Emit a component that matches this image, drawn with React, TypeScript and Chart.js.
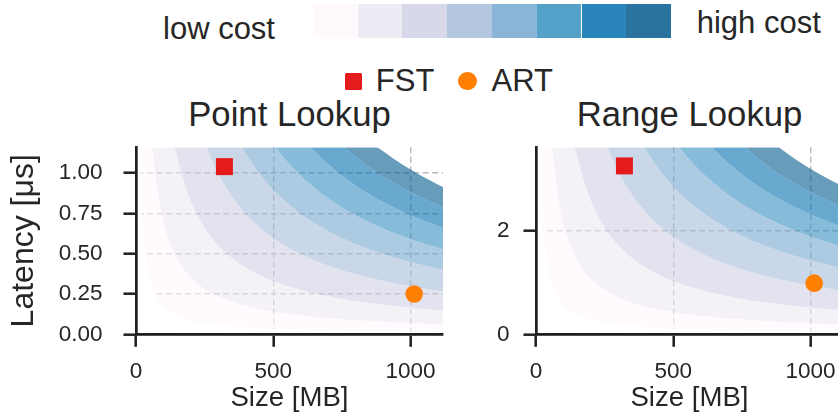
import React, { useEffect, useRef } from "react";
import { Chart, registerables } from "chart.js";

Chart.register(...registerables);

const FONT = "'Liberation Sans', Arial, Helvetica, sans-serif";
const TEXT = "#262626";
const AXIS = "#1f1f1f";
const GRID = "#b8b8b8";

// ---------- data ----------
// PuBu colour classes, from lowest cost band to highest cost band
const COST_COLORS = ["#fff7fb", "#ece7f2", "#d0d1e6", "#a6bddb", "#74a9cf", "#3690c0", "#0570b0", "#045a8d"];
// iso-cost levels (size x latency) that bound the 8 bands
const POINT_LEVELS = [17, 70, 165, 298, 448, 590, 738, 882, 1022];
const RANGE_LEVELS = [55, 214, 516, 943, 1430, 1892, 2320, 2753, 3202];

const SIZE_TICKS = [0, 500, 1000];
const POINT_LATENCY_TICKS = [0, 0.25, 0.5, 0.75, 1.0];
const RANGE_LATENCY_TICKS = [0, 2];

const SIZE_MAX = 1118;
const POINT_LATENCY_MAX = 1.16;
const RANGE_LATENCY_MAX = 3.62;

const INDEX_NAMES = ["FST", "ART"];
const INDEX_COLORS = ["#e41a1c", "#ff7f00"];
const INDEX_SIZE_MB = [322, 1013];
const POINT_LATENCY_US = [1.04, 0.25];
const RANGE_LATENCY_US = [3.26, 0.99];

const LEGEND_LOW = "low cost";
const LEGEND_HIGH = "high cost";

// ---------- helpers ----------
const toRgba = (hex: string, a: number) => {
  const n = parseInt(hex.slice(1), 16);
  return `rgba(${(n >> 16) & 255},${(n >> 8) & 255},${n & 255},${a})`;
};

// x positions at which each iso-cost curve (latency = level / size) is evaluated
function sampleSizes(levels: number[], latMax: number): number[] {
  const s = new Set<number>([0, SIZE_MAX]);
  const n = 320;
  for (let i = 0; i <= n; i++) s.add(Math.pow(SIZE_MAX, i / n));
  levels.forEach((l) => {
    const knee = l / latMax;
    if (knee < SIZE_MAX) s.add(knee);
  });
  return Array.from(s).sort((a, b) => a - b);
}

type Panel = {
  levels: number[];
  latMax: number;
  latTicks: number[];
  latencies: number[];
  yTitle: string | null;
  yTickPadding: number;
  decimals: number;
};

function buildConfig(p: Panel): any {
  const xs = sampleSizes(p.levels, p.latMax);
  const markerDs = INDEX_NAMES.map((name, i) => ({
    label: name,
    data: [{ x: INDEX_SIZE_MB[i], y: p.latencies[i] }],
    showLine: false,
    pointStyle: i === 0 ? "rect" : "circle",
    pointRadius: i === 0 ? 12 : 8.8,
    pointBackgroundColor: INDEX_COLORS[i],
    pointBorderColor: "rgba(0,0,0,0)",
    pointBorderWidth: 0,
    borderColor: "rgba(0,0,0,0)",
    backgroundColor: INDEX_COLORS[i],
    fill: false,
    clip: false,
  }));
  const base = markerDs.length;
  const curveDs = p.levels.map((level, k) => ({
    label: `cost ${level}`,
    data: xs.map((x) => ({ x, y: x === 0 ? p.latMax : Math.min(level / x, p.latMax) })),
    borderColor: "rgba(0,0,0,0)",
    borderWidth: 0,
    pointRadius: 0,
    tension: 0,
    backgroundColor: k === 0 ? "#ffffff" : toRgba(COST_COLORS[k - 1], 0.6),
    fill: k === 0 ? "start" : base + k - 1,
  }));

  const tickFont = { family: FONT, size: 22.5 };
  return {
    type: "line",
    data: { datasets: [...markerDs, ...curveDs] },
    options: {
      responsive: false,
      animation: false,
      devicePixelRatio: 1,
      events: [],
      layout: { autoPadding: false, padding: { top: 7.3, right: 7, bottom: 0, left: 0 } },
      plugins: { legend: { display: false }, tooltip: { enabled: false }, title: { display: false } },
      scales: {
        x: {
          type: "linear",
          min: 0,
          max: SIZE_MAX,
          afterBuildTicks: (s: any) => {
            s.ticks = SIZE_TICKS.map((v) => ({ value: v }));
          },
          afterFit: (s: any) => {
            s.height = 81.7;
            s.paddingLeft = 0;
            s.paddingRight = 0;
          },
          ticks: { font: tickFont, color: TEXT, padding: 11.2, maxRotation: 0, autoSkip: false, callback: (v: any) => String(v) },
          grid: { color: GRID, lineWidth: 1.4, tickLength: 12.5, tickWidth: 2.5, tickColor: AXIS, drawTicks: true },
          border: { display: true, color: AXIS, width: 2.7, dash: [6, 3.5], z: 1 },
          title: { display: true, text: "Size [MB]", color: TEXT, font: { family: FONT, size: 27.6 }, padding: { top: 0, bottom: 0.7 } },
        },
        y: {
          type: "linear",
          min: 0,
          max: p.latMax,
          afterBuildTicks: (s: any) => {
            s.ticks = p.latTicks.map((v) => ({ value: v }));
          },
          afterFit: (s: any) => {
            s.width = 136;
            s.paddingTop = 0;
            s.paddingBottom = 0;
          },
          ticks: { font: tickFont, color: TEXT, padding: p.yTickPadding, autoSkip: false, callback: (v: any) => Number(v).toFixed(p.decimals) },
          grid: { color: GRID, lineWidth: 1.4, tickLength: 12.5, tickWidth: 2.5, tickColor: AXIS, drawTicks: true },
          border: { display: true, color: AXIS, width: 2.7, dash: [6, 3.5], z: 1 },
          title: {
            display: !!p.yTitle,
            text: p.yTitle || "",
            color: TEXT,
            font: { family: FONT, size: 32 },
            padding: { top: 4.8, bottom: 0 },
          },
        },
      },
    },
  };
}

function CostChart({ panel, left }: { panel: Panel; left: number }) {
  const ref = useRef<HTMLCanvasElement>(null);
  useEffect(() => {
    if (!ref.current) return;
    const chart = new Chart(ref.current, buildConfig(panel));
    return () => chart.destroy();
  }, []);
  return (
    <canvas
      ref={ref}
      width={450}
      height={276}
      style={{ position: "absolute", left, top: 140, width: 450, height: 276 }}
    />
  );
}

const POINT_PANEL: Panel = {
  levels: POINT_LEVELS,
  latMax: POINT_LATENCY_MAX,
  latTicks: POINT_LATENCY_TICKS,
  latencies: POINT_LATENCY_US,
  yTitle: "Latency [μs]",
  yTickPadding: 21,
  decimals: 2,
};
const RANGE_PANEL: Panel = {
  levels: RANGE_LEVELS,
  latMax: RANGE_LATENCY_MAX,
  latTicks: RANGE_LATENCY_TICKS,
  latencies: RANGE_LATENCY_US,
  yTitle: null,
  yTickPadding: 14,
  decimals: 0,
};

const textStyle = (left: number, top: number, size: number): React.CSSProperties => ({
  position: "absolute",
  left,
  top,
  fontSize: size,
  lineHeight: 1,
  whiteSpace: "nowrap",
});

export default function App() {
  return (
    <div
      style={{
        position: "absolute",
        left: 0,
        top: 0,
        width: 838,
        height: 416,
        overflow: "hidden",
        background: "#ffffff",
        fontFamily: FONT,
        color: TEXT,
      }}
    >
      <span style={textStyle(163, 13.1, 31)}>{LEGEND_LOW}</span>
      {COST_COLORS.map((c, i) => (
        <div
          key={c}
          style={{
            position: "absolute",
            left: 312.7 + i * 44.8,
            top: 4,
            width: 44.8,
            height: 34,
            background: toRgba(c, 0.85),
          }}
        />
      ))}
      <span style={textStyle(696.7, 7.3, 31)}>{LEGEND_HIGH}</span>

      <div style={{ position: "absolute", left: 345, top: 72.5, width: 17.2, height: 17.2, background: INDEX_COLORS[0], borderRadius: 1.5 }} />
      <span style={textStyle(375.8, 64.8, 31)}>{INDEX_NAMES[0]}</span>
      <div style={{ position: "absolute", left: 458.4, top: 71.9, width: 18.3, height: 18.3, background: INDEX_COLORS[1], borderRadius: "50%" }} />
      <span style={textStyle(491.5, 64.8, 31)}>{INDEX_NAMES[1]}</span>

      <div style={{ ...textStyle(89.5, 96.6, 34.7), width: 400, textAlign: "center" }}>Point Lookup</div>
      <div style={{ ...textStyle(489.5, 96.6, 34.7), width: 400, textAlign: "center" }}>Range Lookup</div>

      <CostChart panel={POINT_PANEL} left={0} />
      <CostChart panel={RANGE_PANEL} left={400} />
    </div>
  );
}
